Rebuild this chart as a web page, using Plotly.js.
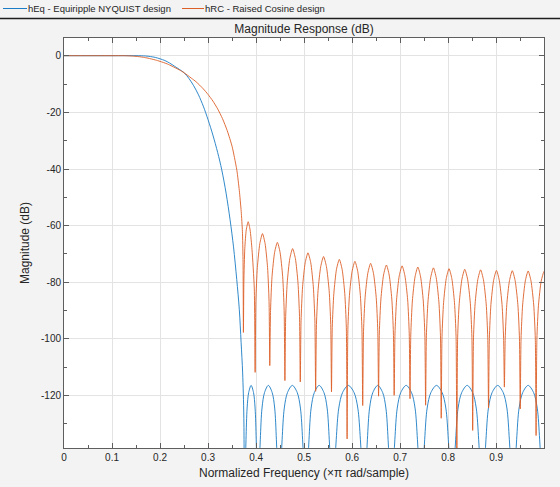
<!DOCTYPE html>
<html>
<head>
<meta charset="utf-8">
<script src="https://cdn.plot.ly/plotly-3.0.1.min.js"></script>
<style>
  html, body { margin: 0; padding: 0; background: #f3f3f3; }
  #grafico { width: 560px; height: 487px; }
</style>
</head>
<body>
<div id="grafico"></div>
<script>
// Magnitude response (x: normalized frequency, y: dB)

// hEq - Equiripple NYQUIST design
const eqFreq = [
  0, 0.1, 0.15, 0.17, 0.18, 0.19, 0.2, 0.21, 0.22, 0.23, 0.24, 0.25, 0.26, 0.27, 0.28,
  0.29, 0.3, 0.31, 0.32, 0.3285, 0.3375, 0.3458, 0.353, 0.3597, 0.365, 0.3688, 0.372, 0.3745, 0.3757,
  0.3774, 0.3790, 0.3813, 0.3846, 0.3896, 0.3946, 0.3979, 0.4002, 0.4018, 0.4035,
  0.4061, 0.4088, 0.4123, 0.4176, 0.4255, 0.4334, 0.4387, 0.4422, 0.4449, 0.4475,
  0.4509, 0.4542, 0.4587, 0.4654, 0.4755, 0.4856, 0.4923, 0.4968, 0.5001, 0.5035,
  0.5068, 0.5102, 0.5146, 0.5213, 0.5313, 0.5412, 0.5479, 0.5523, 0.5557, 0.559,
  0.563, 0.5669, 0.5722, 0.5801, 0.592, 0.6039, 0.6118, 0.6171, 0.621, 0.625,
  0.6284, 0.6318, 0.6363, 0.6431, 0.6533, 0.6635, 0.6703, 0.6748, 0.6782, 0.6816,
  0.6853, 0.689, 0.6939, 0.7013, 0.7125, 0.7236, 0.731, 0.7359, 0.7396, 0.7433,
  0.7472, 0.7511, 0.7562, 0.764, 0.7757, 0.7873, 0.7951, 0.8002, 0.8041, 0.808,
  0.8118, 0.8156, 0.8206, 0.8282, 0.8395, 0.8508, 0.8584, 0.8634, 0.8672, 0.871,
  0.8748, 0.8787, 0.8838, 0.8915, 0.903, 0.9145, 0.9222, 0.9273, 0.9312, 0.935,
  0.9388, 0.9426, 0.9476, 0.9552, 0.9665, 0.9778, 0.9854, 0.9904, 0.9942, 0.998,
  1.0
];
const eqMag = [
  0, 0, 0, -0.1, -0.3, -0.6, -1.1, -1.7, -2.6, -3.7, -4.8, -6.0, -8.0, -10.6, -13.8,
  -17.8, -22.6, -28.0, -34.2, -40.3, -48.5, -57.9, -67.5, -79, -89.5, -101.3, -112, -128, -170,
  -148.4, -135.4, -124.4, -118.9, -116.4, -118.9, -124.4, -135.4, -148.4, -170,
  -148.4, -135.4, -124.4, -118.9, -116.4, -118.9, -124.4, -135.4, -148.4, -170,
  -148.4, -135.4, -124.4, -118.9, -116.4, -118.9, -124.4, -135.4, -148.4, -170,
  -148.4, -135.4, -124.4, -118.9, -116.4, -118.9, -124.4, -135.4, -148.4, -170,
  -148.4, -135.4, -124.4, -118.9, -116.4, -118.9, -124.4, -135.4, -148.4, -170,
  -148.4, -135.4, -124.4, -118.9, -116.4, -118.9, -124.4, -135.4, -148.4, -170,
  -148.4, -135.4, -124.4, -118.9, -116.4, -118.9, -124.4, -135.4, -148.4, -170,
  -148.4, -135.4, -124.4, -118.9, -116.4, -118.9, -124.4, -135.4, -148.4, -170,
  -148.4, -135.4, -124.4, -118.9, -116.4, -118.9, -124.4, -135.4, -148.4, -170,
  -148.4, -135.4, -124.4, -118.9, -116.4, -118.9, -124.4, -135.4, -148.4, -170,
  -148.4, -135.4, -124.4, -118.9, -116.4, -118.9, -124.4, -135.4, -148.4, -170,
  -150
];

// hRC - Raised Cosine design
const rcFreq = [
  0, 0.05, 0.1, 0.125, 0.14, 0.15, 0.165, 0.175, 0.19, 0.2, 0.215, 0.225, 0.24, 0.25, 0.265,
  0.275, 0.29, 0.3, 0.31, 0.32, 0.33, 0.34, 0.35, 0.355, 0.36, 0.365, 0.369, 0.3715, 0.3728, 0.3736,
  0.3745, 0.3765, 0.3795, 0.3835, 0.3875, 0.3915, 0.3962, 0.398,
  0.3995, 0.4026, 0.4078, 0.4133, 0.4187, 0.4239, 0.4270, 0.4285,
  0.4301, 0.4332, 0.4386, 0.4443, 0.4499, 0.4553, 0.4584, 0.46,
  0.4616, 0.4648, 0.4702, 0.476, 0.4818, 0.4872, 0.4904, 0.492,
  0.4936, 0.4968, 0.5022, 0.508, 0.5138, 0.5192, 0.5224, 0.524,
  0.5257, 0.529, 0.5346, 0.5405, 0.5464, 0.5521, 0.5554, 0.557,
  0.5586, 0.5619, 0.5674, 0.5733, 0.5791, 0.5846, 0.5879, 0.5895,
  0.5911, 0.5944, 0.5999, 0.6058, 0.6116, 0.6171, 0.6204, 0.622,
  0.6237, 0.627, 0.6326, 0.6385, 0.6444, 0.6501, 0.6534, 0.655,
  0.6566, 0.6599, 0.6654, 0.6713, 0.6771, 0.6826, 0.6859, 0.6875,
  0.6892, 0.6925, 0.6981, 0.704, 0.7099, 0.7156, 0.7189, 0.7205,
  0.7221, 0.7254, 0.7309, 0.7368, 0.7426, 0.7481, 0.7514, 0.753,
  0.7546, 0.7579, 0.7634, 0.7693, 0.7751, 0.7806, 0.7839, 0.7855,
  0.7871, 0.7904, 0.7959, 0.8018, 0.8076, 0.8131, 0.8164, 0.818,
  0.8197, 0.823, 0.8286, 0.8345, 0.8404, 0.8461, 0.8494, 0.851,
  0.8527, 0.856, 0.8616, 0.8675, 0.8734, 0.8791, 0.8824, 0.884,
  0.8857, 0.889, 0.8946, 0.9005, 0.9064, 0.9121, 0.9154, 0.917,
  0.9187, 0.922, 0.9276, 0.9335, 0.9394, 0.9451, 0.9484, 0.95,
  0.9517, 0.955, 0.9606, 0.9665, 0.9724, 0.9781, 0.9814, 0.983,
  0.9847, 0.988, 0.9936, 0.9995, 1.0
];
const rcMag = [
  0, 0, 0, 0, -0.1, -0.22, -0.55, -0.87, -1.5, -2.0, -2.9, -3.7, -5.0, -6.0, -7.9,
  -9.2, -11.7, -13.7, -16.0, -18.8, -22.2, -26.5, -32, -36, -40.5, -47.5, -55, -62, -72, -97.7,
  -80, -68, -61.5, -58.6, -61.5, -68.5, -82, -111.8,
  -86.8, -74.8, -66.3, -62.8, -66.3, -74.8, -86.8, -109.4,
  -89.9, -77.9, -69.4, -65.9, -69.4, -77.9, -89.9, -114.7,
  -92.1, -80.1, -71.6, -68.1, -71.6, -80.1, -92.1, -115.2,
  -93.6, -81.6, -73.1, -69.6, -73.1, -81.6, -93.6, -118.5,
  -94.9, -82.9, -74.4, -70.9, -74.4, -82.9, -94.9, -118.7,
  -95.9, -83.9, -75.4, -71.9, -75.4, -83.9, -95.9, -135.3,
  -96.6, -84.6, -76.1, -72.6, -76.1, -84.6, -96.6, -123.5,
  -97.3, -85.3, -76.8, -73.3, -76.8, -85.3, -97.3, -120.2,
  -97.9, -85.9, -77.4, -73.9, -77.4, -85.9, -97.9, -119.9,
  -98.2, -86.2, -77.7, -74.2, -77.7, -86.2, -98.2, -121.1,
  -98.6, -86.6, -78.1, -74.6, -78.1, -86.6, -98.6, -123.4,
  -98.9, -86.9, -78.4, -74.9, -78.4, -86.9, -98.9, -128.0,
  -99.2, -87.2, -78.7, -75.2, -78.7, -87.2, -99.2, -150,
  -99.4, -87.4, -78.9, -75.4, -78.9, -87.4, -99.4, -132.3,
  -99.6, -87.6, -79.1, -75.6, -79.1, -87.6, -99.6, -124.4,
  -99.8, -87.8, -79.3, -75.8, -79.3, -87.8, -99.8, -117,
  -99.9, -87.9, -79.4, -75.9, -79.4, -87.9, -99.9, -124.7,
  -100, -88, -79.5, -76, -79.5, -88, -100, -134.1,
  -100.1, -88.1, -79.6, -76.1, -76.1
];

// Ticks y leyenda
const xTickVals = [0, 0.1, 0.2, 0.3, 0.4, 0.5, 0.6, 0.7, 0.8, 0.9];
const xTickText = ['0', '0.1', '0.2', '0.3', '0.4', '0.5', '0.6', '0.7', '0.8', '0.9'];
const yTickVals = [-120, -100, -80, -60, -40, -20, 0];
const yTickText = ['-120', '-100', '-80', '-60', '-40', '-20', '0'];
const seriesNames = ['hEq - Equiripple NYQUIST design', 'hRC - Raised Cosine design'];
const seriesColors = ['#1a7cc4', '#dc5f27'];

const fuente = 'Liberation Sans, Arial, Helvetica, sans-serif';
const colorEje = '#5e5e5e';
const colorTexto = '#262626';

// pixel -> paper helpers (plot area: 64..544 x 38..448)
const px = (p) => (p - 64) / 480;
const py = (p) => 1 + (38 - p) / 410;

const trazas = [
  {
    x: eqFreq, y: eqMag,
    type: 'scatter', mode: 'lines',
    name: seriesNames[0], showlegend: false,
    line: { color: seriesColors[0], width: 0.9, shape: 'spline', smoothing: 0.9 }
  },
  {
    x: rcFreq, y: rcMag,
    type: 'scatter', mode: 'lines',
    name: seriesNames[1], showlegend: false,
    line: { color: seriesColors[1], width: 0.9, shape: 'spline', smoothing: 0.6 }
  }
];

// Leyenda dibujada a mano, como la barra superior de fvtool
const legendLines = [
  { x0: 3, x1: 27 },
  { x0: 182, x1: 204 }
];
const legendTextX = [25.5, 203.2];

const shapes = legendLines.map((l, i) => ({
  type: 'line', xref: 'paper', yref: 'paper',
  x0: px(l.x0), x1: px(l.x1), y0: py(8.5), y1: py(8.5),
  line: { color: seriesColors[i], width: 1 }
}));
// barra separadora bajo la leyenda
shapes.push({
  type: 'line', xref: 'paper', yref: 'paper',
  x0: px(0), x1: px(560), y0: py(18.5), y1: py(18.5),
  line: { color: '#1e1e1e', width: 1.3 }
});

const annotations = seriesNames.map((name, i) => ({
  text: name, showarrow: false,
  xref: 'paper', yref: 'paper',
  x: px(legendTextX[i]), xanchor: 'left',
  y: py(8.5), yanchor: 'middle',
  font: { family: fuente, size: 9.5, color: colorTexto }
}));

const layout = {
  width: 560,
  height: 487,
  paper_bgcolor: '#f3f3f3',
  plot_bgcolor: '#ffffff',
  margin: { l: 64, r: 16, t: 38, b: 39, autoexpand: false },
  font: { family: fuente, size: 10, color: colorTexto },
  title: {
    text: 'Magnitude Response (dB)',
    font: { family: fuente, size: 12, color: colorTexto },
    x: 0.5, xref: 'paper', xanchor: 'center',
    y: 1 - 29 / 487, yref: 'container', yanchor: 'middle'
  },
  xaxis: {
    range: [0, 0.9995],
    tickmode: 'array', tickvals: xTickVals, ticktext: xTickText,
    ticks: 'inside', ticklen: 5, tickcolor: colorEje,
    showline: true, linecolor: colorEje, linewidth: 1, mirror: 'ticks',
    showgrid: true, gridcolor: '#e3e3e3', zeroline: false,
    tickfont: { family: fuente, size: 10, color: colorTexto },
    minor: { tickmode: 'linear', tick0: 0, dtick: 0.05, ticks: 'inside', ticklen: 3, tickcolor: colorEje, showgrid: false },
    title: {
      text: 'Normalized Frequency (\u00d7\u03c0 rad/sample)',
      font: { family: fuente, size: 12, color: colorTexto },
      standoff: 6
    }
  },
  yaxis: {
    range: [-138.5, 6.25],
    tickmode: 'array', tickvals: yTickVals, ticktext: yTickText,
    ticks: 'inside', ticklen: 5, tickcolor: colorEje,
    showline: true, linecolor: colorEje, linewidth: 1, mirror: 'ticks',
    showgrid: true, gridcolor: '#e3e3e3', zeroline: false,
    tickfont: { family: fuente, size: 10, color: colorTexto },
    minor: { tickmode: 'linear', tick0: 0, dtick: 10, ticks: 'inside', ticklen: 3, tickcolor: colorEje, showgrid: false },
    title: {
      text: 'Magnitude (dB)',
      font: { family: fuente, size: 12, color: colorTexto },
      standoff: 8
    }
  },
  showlegend: false,
  shapes: shapes,
  annotations: annotations,
  hovermode: false
};

Plotly.newPlot('grafico', trazas, layout, { displayModeBar: false, staticPlot: true });
</script>
</body>
</html>
